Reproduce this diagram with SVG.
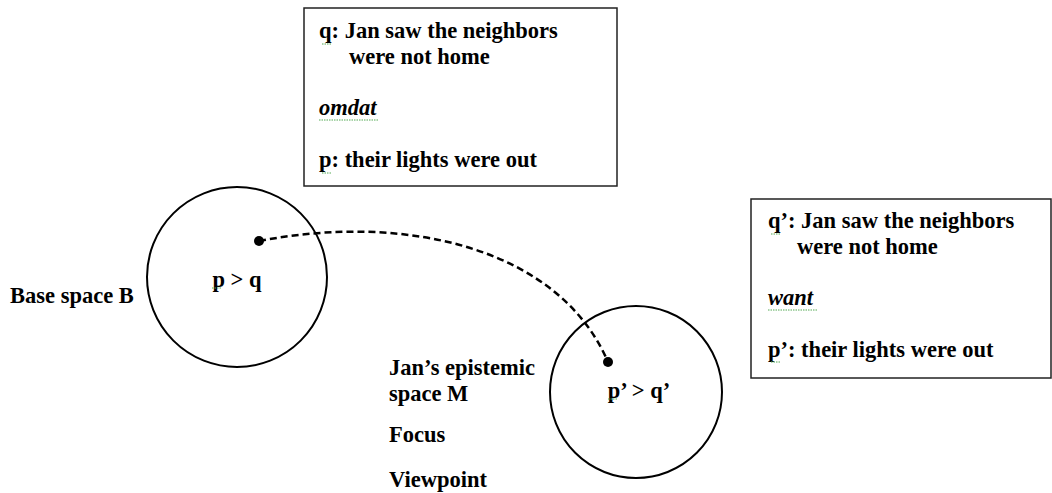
<svg xmlns="http://www.w3.org/2000/svg" width="1052" height="493" viewBox="0 0 1052 493">
<style>
text{font-family:"Liberation Serif","Times New Roman",serif;font-weight:bold;font-size:22.5px;fill:#000}
.it{font-style:italic}
.box{fill:#fff;stroke:#222;stroke-width:1.5}
.sp{fill:none;stroke:#000;stroke-width:2}
.sq{fill:none;stroke:#5a5;stroke-width:1;stroke-dasharray:1.5 1}
</style>
<rect width="1052" height="493" fill="#fff"/>
<g id="connectors">
<path d="M259,241 C410,212 560,250 608,362" fill="none" stroke="#000" stroke-width="2.5" stroke-dasharray="7 4"/>
</g>
<g id="box1">
<rect class="box" x="304" y="8" width="313" height="178"/>
<text x="319" y="38">q: Jan saw the neighbors</text>
<text x="349" y="64">were not home</text>
<text x="319" y="115" class="it">omdat</text>
<text x="319" y="167">p: their lights were out</text>
<path class="sq" d="M322,44h10M319,120h60M322,173h10"/>
</g>
<g id="box2">
<rect class="box" x="751" y="199" width="300" height="179"/>
<text x="768" y="228">q’: Jan saw the neighbors</text>
<text x="797" y="254">were not home</text>
<text x="768" y="305" class="it">want</text>
<text x="768" y="357">p’: their lights were out</text>
<path class="sq" d="M771,234h10M768,310h50M771,362h10"/>
</g>
<g id="baseSpace">
<circle class="sp" cx="237" cy="277" r="90"/>
<circle cx="259" cy="241" r="5"/>
<text x="237" y="287" text-anchor="middle">p &gt; q</text>
<path class="sq" d="M212,288h10"/>
</g>
<g id="epistemicSpace">
<circle class="sp" cx="636" cy="392" r="86"/>
<circle cx="608" cy="362" r="5"/>
<text x="639" y="398" text-anchor="middle">p’ &gt; q’</text>
<path class="sq" d="M608,399h10"/>
</g>
<g id="labelB">
<text x="10" y="303">Base space B</text>
</g>
<g id="labelM">
<text x="389" y="375">Jan’s epistemic</text>
<text x="389" y="401">space M</text>
<text x="389" y="442">Focus</text>
<text x="389" y="487">Viewpoint</text>
</g>
</svg>
